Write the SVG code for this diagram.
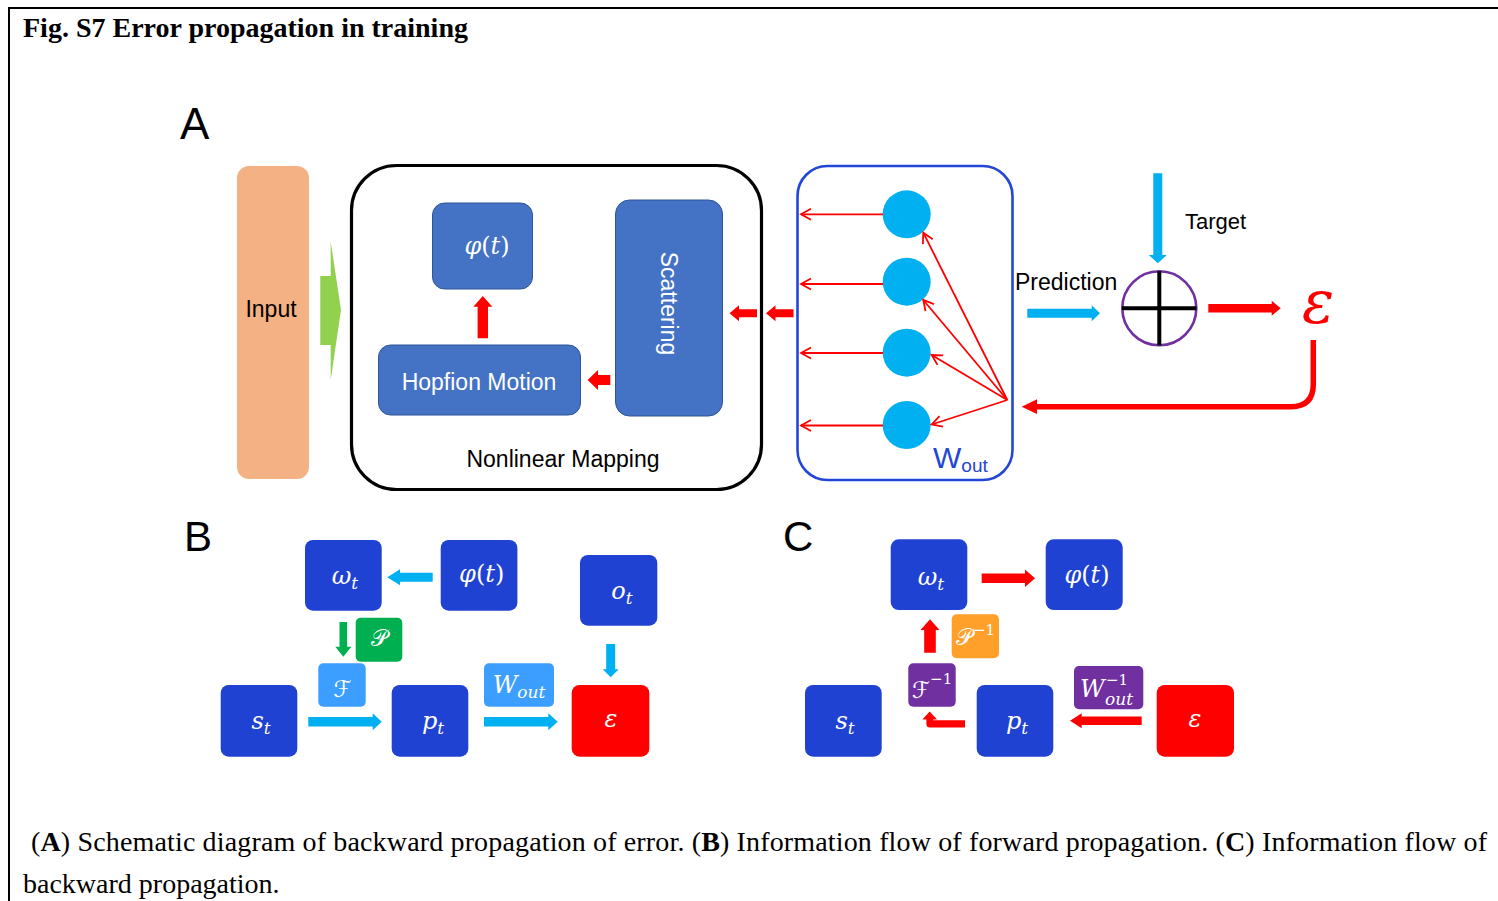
<svg xmlns="http://www.w3.org/2000/svg" width="1498" height="901" viewBox="0 0 1498 901">
  <style>
    .sans { font-family: "Liberation Sans", Arial, sans-serif; }
    .serif { font-family: "Liberation Serif", "Times New Roman", serif; }
    .math { font-family: "DejaVu Serif", "Liberation Serif", serif; font-style: italic; fill: #ffffff; font-size: 24px; }
    .script { font-family: "DejaVu Serif", "DejaVu Sans", serif; font-style: normal; fill: #ffffff; font-size: 23px; }
    .up { font-style: normal; }
    .sub { font-size: 17px; }
    .sup { font-size: 15px; font-style: normal; }
    .blk { fill: #4472C4; stroke: #2F5597; stroke-width: 1; }
    .nb { fill: #2042D3; }
    .err { fill: #FF0000; }
    .red { fill: #FF0000; }
    .cyan { fill: #00B0F0; }
    .thin { stroke: #FF0000; stroke-width: 1.8; fill: none; marker-end: url(#open); }
    .label { font-family: "Liberation Sans", Arial, sans-serif; font-size: 23px; fill: #000000; }
  </style>
  <defs>
    <marker id="open" markerUnits="userSpaceOnUse" markerWidth="14" markerHeight="14" refX="11" refY="7" orient="auto">
      <path d="M1,1.5 L11,7 L1,12.5" fill="none" stroke="#FF0000" stroke-width="1.8"/>
    </marker>
  </defs>

  <rect width="1498" height="901" fill="#ffffff"/>

  <!-- frame -->
  <g id="frame" stroke="#000" stroke-width="2">
    <line x1="8" y1="8" x2="1498" y2="8"/>
    <line x1="9" y1="7" x2="9" y2="901"/>
  </g>

  <text id="title" x="23" y="37" class="serif" font-size="28" font-weight="bold">Fig. S7 Error propagation in training</text>

  <!-- ===== Panel A ===== -->
  <text id="labelA" x="180" y="139" class="sans" font-size="44">A</text>

  <g id="input">
    <rect x="237" y="166" width="72" height="313" rx="12" fill="#F4B183"/>
    <text x="271" y="317" class="label" text-anchor="middle">Input</text>
  </g>

  <g id="input-arrow">
    <polygon points="320.3,276 330.7,276 330.7,241.7 341,310 330.7,380 330.7,345 320.3,345" fill="#92D050"/>
  </g>

  <g id="nonlinear">
    <rect x="351.5" y="165.5" width="410" height="324" rx="45" fill="none" stroke="#000" stroke-width="3.2"/>
    <text x="563" y="467" class="label" text-anchor="middle">Nonlinear Mapping</text>
  </g>

  <g id="phiA">
    <rect class="blk" x="432.5" y="203" width="100" height="86" rx="12"/>
    <text x="487" y="254" class="math" text-anchor="middle">φ<tspan class="up">(</tspan>t<tspan class="up">)</tspan></text>
  </g>

  <g id="scattering">
    <rect class="blk" x="615.5" y="200" width="107" height="216" rx="14"/>
    <text transform="translate(661,303.5) rotate(90)" class="sans" font-size="23" fill="#fff" text-anchor="middle">Scattering</text>
  </g>

  <g id="hopfion">
    <rect class="blk" x="378.5" y="345" width="202" height="70" rx="12"/>
    <text x="479" y="390" class="sans" font-size="23" fill="#fff" text-anchor="middle">Hopfion Motion</text>
  </g>

  <g id="wout">
    <rect x="797.5" y="166" width="215" height="314" rx="30" fill="none" stroke="#2346D6" stroke-width="2.6"/>
    <circle cx="906.7" cy="214.3" r="24" fill="#00B0F0"/>
    <circle cx="906.7" cy="281.7" r="24" fill="#00B0F0"/>
    <circle cx="906.7" cy="352.7" r="24" fill="#00B0F0"/>
    <circle cx="906.7" cy="425" r="24" fill="#00B0F0"/>
    <text x="933" y="468" class="sans" font-size="30" fill="#2346D6">W<tspan font-size="19" dy="4">out</tspan></text>
  </g>

  <g id="summer">
    <circle cx="1159.3" cy="308.3" r="37" fill="none" stroke="#7030A0" stroke-width="2.6"/>
    <line x1="1159.3" y1="271" x2="1159.3" y2="345.5" stroke="#000" stroke-width="4"/>
    <line x1="1122" y1="308.3" x2="1196.5" y2="308.3" stroke="#000" stroke-width="4"/>
  </g>

  <g id="labelsA">
    <text x="1015" y="290" class="label">Prediction</text>
    <text x="1185" y="229" class="sans" font-size="22">Target</text>
    <text x="1302" y="323" font-family="DejaVu Serif, Liberation Serif, serif" font-style="italic" font-size="60" fill="#FF0000">ε</text>
  </g>

  <g id="connectorsA">
    <!-- inside the mapping block -->
    <polygon class="red" points="477.6,338.3 477.6,306.7 473.3,306.7 482.8,296 492.3,306.7 488,306.7 488,338.3"/>
    <polygon class="red" points="610.3,375 598,375 598,370 587.6,380 598,390 598,385 610.3,385"/>
    <!-- readout back into the mapping block -->
    <polygon class="red" points="757,309.3 739,309.3 739,305.3 729.5,313.3 739,321.3 739,317.3 757,317.3"/>
    <polygon class="red" points="793.5,309.3 775.5,309.3 775.5,305.3 766,313.3 775.5,321.3 775.5,317.3 793.5,317.3"/>
    <!-- node outputs -->
    <line class="thin" x1="883" y1="214.3" x2="801" y2="214.3"/>
    <line class="thin" x1="883" y1="284" x2="801" y2="284"/>
    <line class="thin" x1="883" y1="353" x2="801" y2="353"/>
    <line class="thin" x1="883" y1="425.5" x2="801" y2="425.5"/>
    <!-- weight fan -->
    <line class="thin" x1="1007.3" y1="400" x2="923.3" y2="232.7"/>
    <line class="thin" x1="1007.3" y1="400" x2="923.3" y2="300"/>
    <line class="thin" x1="1007.3" y1="400" x2="931.7" y2="355"/>
    <line class="thin" x1="1007.3" y1="400" x2="931.7" y2="424.5"/>
    <!-- prediction / target -->
    <polygon class="cyan" points="1027.3,308.8 1091.7,308.8 1091.7,305.3 1100,313.3 1091.7,321.3 1091.7,317.8 1027.3,317.8"/>
    <polygon class="cyan" points="1153.3,173.3 1162.3,173.3 1162.3,255 1166.8,255 1157.8,263.3 1148.8,255 1153.3,255"/>
    <!-- error out -->
    <polygon class="red" points="1208.3,304 1271.7,304 1271.7,300.8 1280.7,308.3 1271.7,315.8 1271.7,312.6 1208.3,312.6"/>
    <!-- error feedback -->
    <path d="M1313.3,340 L1313.3,384 Q1313.3,406.7 1291,406.7 L1034,406.7" fill="none" stroke="#FF0000" stroke-width="5.5"/>
    <polygon class="red" points="1021.7,406.7 1037,399.3 1037,414.1"/>
  </g>

  <!-- ===== Panel B ===== -->
  <text id="labelB" x="184" y="551" class="sans" font-size="42">B</text>

  <g id="B-omega">
    <rect class="nb" x="305" y="540" width="76.7" height="70.7" rx="8"/>
    <text x="345" y="584" class="math" text-anchor="middle">ω<tspan class="sub" dy="5">t</tspan></text>
  </g>
  <g id="B-phi">
    <rect class="nb" x="440.7" y="540" width="76.7" height="70.7" rx="8"/>
    <text x="481.7" y="582" class="math" text-anchor="middle">φ<tspan class="up">(</tspan>t<tspan class="up">)</tspan></text>
  </g>
  <g id="B-o">
    <rect class="nb" x="580" y="555" width="77.3" height="70.7" rx="8"/>
    <text x="622" y="599" class="math" text-anchor="middle">o<tspan class="sub" dy="5">t</tspan></text>
  </g>
  <g id="B-P">
    <rect x="355.7" y="617.7" width="46.6" height="44" rx="5" fill="#00B050"/>
    <text x="379" y="646" class="script" text-anchor="middle">𝒫</text>
  </g>
  <g id="B-F">
    <rect x="318.3" y="663.3" width="47.4" height="43.4" rx="5" fill="#3C9EFF"/>
    <text x="342.5" y="697" class="script" text-anchor="middle">ℱ</text>
  </g>
  <g id="B-s">
    <rect class="nb" x="220.7" y="685" width="76.6" height="71.7" rx="8"/>
    <text x="261" y="729" class="math" text-anchor="middle">s<tspan class="sub" dy="5">t</tspan></text>
  </g>
  <g id="B-p">
    <rect class="nb" x="391.7" y="685" width="76.6" height="71.7" rx="8"/>
    <text x="433" y="729" class="math" text-anchor="middle">p<tspan class="sub" dy="5">t</tspan></text>
  </g>
  <g id="B-W">
    <rect x="484" y="663.3" width="70" height="43.4" rx="5" fill="#3C9EFF"/>
    <text x="519" y="693" class="math" text-anchor="middle">W<tspan class="sub" dy="5">out</tspan></text>
  </g>
  <g id="B-eps">
    <rect class="err" x="571.7" y="685" width="77.6" height="71.7" rx="8"/>
    <text x="611" y="727" class="math" text-anchor="middle">ε</text>
  </g>

  <g id="connectorsB">
    <polygon class="cyan" points="432.7,572.8 400,572.8 400,569.3 387.3,577.3 400,585.3 400,581.8 432.7,581.8"/>
    <polygon points="339.5,622 347.1,622 347.1,646.7 351.3,646.7 343.3,656.7 335.3,646.7 339.5,646.7" fill="#00B050"/>
    <polygon class="cyan" points="308.3,717 372.7,717 372.7,713.2 381.7,721.7 372.7,730.2 372.7,726.4 308.3,726.4"/>
    <polygon class="cyan" points="484,717 548.3,717 548.3,713.2 557.7,721.7 548.3,730.2 548.3,726.4 484,726.4"/>
    <polygon class="cyan" points="606.2,644 615.2,644 615.2,669.3 618.7,669.3 610.7,677.3 602.7,669.3 606.2,669.3"/>
  </g>

  <!-- ===== Panel C ===== -->
  <text id="labelC" x="783" y="551" class="sans" font-size="42">C</text>

  <g id="C-omega">
    <rect class="nb" x="890.7" y="539.3" width="76.6" height="70.7" rx="8"/>
    <text x="931" y="585" class="math" text-anchor="middle">ω<tspan class="sub" dy="5">t</tspan></text>
  </g>
  <g id="C-phi">
    <rect class="nb" x="1045.7" y="539.3" width="77" height="70.7" rx="8"/>
    <text x="1087" y="583" class="math" text-anchor="middle">φ<tspan class="up">(</tspan>t<tspan class="up">)</tspan></text>
  </g>
  <g id="C-Pinv">
    <rect x="951.7" y="614.3" width="47.3" height="44" rx="5" fill="#FFA02B"/>
    <text x="956" y="645" class="script">𝒫<tspan class="sup" dy="-10">−1</tspan></text>
  </g>
  <g id="C-Finv">
    <rect x="908.3" y="663.3" width="47.4" height="43.4" rx="5" fill="#7030A0"/>
    <text x="912" y="698" class="script">ℱ<tspan class="sup" dy="-14">−1</tspan></text>
  </g>
  <g id="C-s">
    <rect class="nb" x="805" y="685" width="76.7" height="71.7" rx="8"/>
    <text x="845" y="729" class="math" text-anchor="middle">s<tspan class="sub" dy="5">t</tspan></text>
  </g>
  <g id="C-p">
    <rect class="nb" x="976.7" y="685" width="76.6" height="71.7" rx="8"/>
    <text x="1017" y="729" class="math" text-anchor="middle">p<tspan class="sub" dy="5">t</tspan></text>
  </g>
  <g id="C-Winv">
    <rect x="1074" y="666" width="69.3" height="43.3" rx="5" fill="#7030A0"/>
    <text x="1080" y="697" class="math">W<tspan class="sup" x="1106" dy="-12" font-size="14">−1</tspan><tspan class="sub" x="1105" dy="20">out</tspan></text>
  </g>
  <g id="C-eps">
    <rect class="err" x="1156.7" y="685" width="77.3" height="71.7" rx="8"/>
    <text x="1195" y="727" class="math" text-anchor="middle">ε</text>
  </g>

  <g id="connectorsC">
    <polygon class="red" points="981.7,573.6 1025,573.6 1025,569.6 1035,578.3 1025,587 1025,583 981.7,583"/>
    <polygon class="red" points="924.2,652.7 924.2,630 920.5,630 930,619.3 939.5,630 935.8,630 935.8,652.7"/>
    <path class="red" d="M965,720.3 L933,720.3 L933,719.5 L937,719.5 L929.7,711.5 L922.4,719.5 L926.4,719.5 L926.4,724 Q926.4,727.5 930,727.5 L965,727.5 Z"/>
    <polygon class="red" points="1141.7,716.5 1081.7,716.5 1081.7,713.2 1070,720.7 1081.7,728.2 1081.7,724.9 1141.7,724.9"/>
  </g>

  <!-- caption -->
  <g id="caption" class="serif" font-size="28" fill="#000">
    <text x="31" y="851" textLength="1456" lengthAdjust="spacing">(<tspan font-weight="bold">A</tspan>) Schematic diagram of backward propagation of error. (<tspan font-weight="bold">B</tspan>) Information flow of forward propagation. (<tspan font-weight="bold">C</tspan>) Information flow of</text>
    <text x="23" y="893">backward propagation.</text>
  </g>
</svg>
